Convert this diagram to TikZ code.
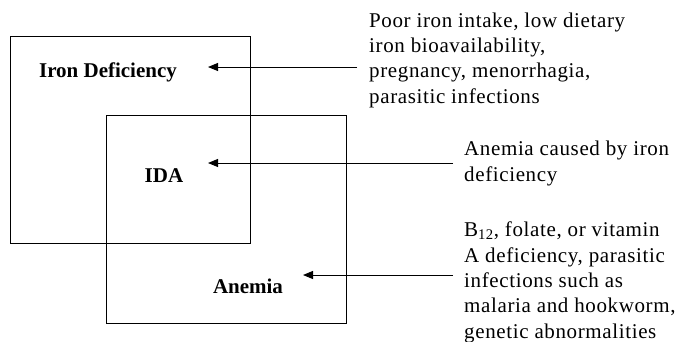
\documentclass[tikz,border=0pt]{standalone}
\usepackage{fontspec}
\setmainfont{Liberation Serif}
\usepackage{tikz}
\usetikzlibrary{arrows.meta,positioning}
\tikzset{
  box/.style ={draw,line width=1pt,minimum width=240pt,inner sep=0pt},
  lab/.style ={font=\fontsize{21}{25}\selectfont\bfseries,inner sep=0pt,anchor=base},
  note/.style={font=\fontsize{21}{25.3}\selectfont\addfontfeatures{LetterSpace=3},align=left,anchor=base west,inner sep=0pt},
  ar/.style  ={-{Triangle[length=10pt,width=8pt]},line width=1pt},
}
\begin{document}
\begin{tikzpicture}[x=1pt,y=-1pt]
  \useasboundingbox (0,0) rectangle (689,341);
  % the two overlapping sets
  \node[box,minimum height=207pt] (defbox) at (130,139.5){};
  \node[box,minimum height=208pt] (anebox) at (226,219){};
  \node[lab] (def) at (108,77){Iron Deficiency};
  \node[lab] (ida) at (164,182){IDA};
  \node[lab] (ane) at (248,293){Anemia};
  % explanations on the right
  \node[note] (defnote) at (369,103){Poor iron intake, low dietary\\iron bioavailability,\\pregnancy, menorrhagia,\\parasitic infections};
  \node[note] (idanote) at (464,181){Anemia caused by iron\\deficiency};
  \node[note] (anenote) at (464,338){B\textsubscript{12}, folate, or vitamin\\A deficiency, parasitic\\infections such as\\malaria and hookworm,\\genetic abnormalities};
  \coordinate (defsrc) at (357,67);  \coordinate (deftip) at (208,67);
  \coordinate (idasrc) at (453,163); \coordinate (idatip) at (208,163);
  \coordinate (anesrc) at (453,275); \coordinate (anetip) at (303,275);
  \draw[ar] (defsrc) -- (deftip);
  \draw[ar] (idasrc) -- (idatip);
  \draw[ar] (anesrc) -- (anetip);
\end{tikzpicture}
\end{document}
